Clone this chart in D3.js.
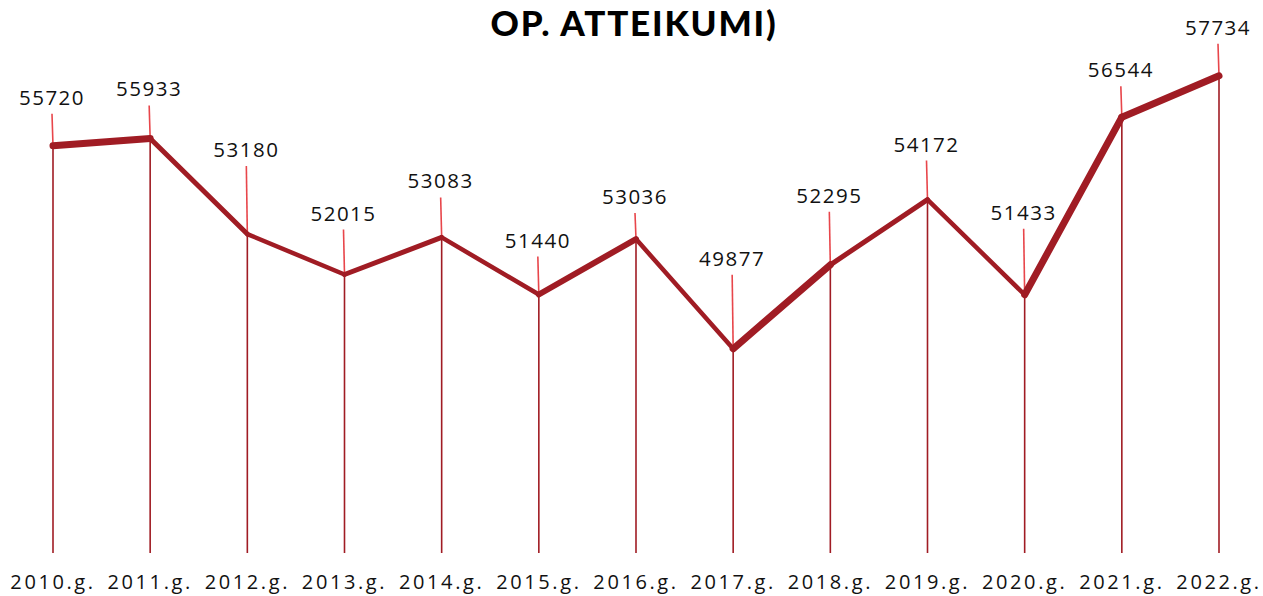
<!DOCTYPE html>
<html><head><meta charset="utf-8">
<script src="https://cdn.jsdelivr.net/npm/d3@7"></script>
<style>body{margin:0;background:#fff;}svg{display:block;}</style>
</head><body>
<svg id="c" width="1263" height="596"></svg>
<script>
const categories = ["2010.g.","2011.g.","2012.g.","2013.g.","2014.g.","2015.g.","2016.g.","2017.g.","2018.g.","2019.g.","2020.g.","2021.g.","2022.g."];
const values = [55720,55933,53180,52015,53083,51440,53036,49877,52295,54172,51433,56544,57734];
const title = "OP. ATTEIKUMI)";
// layout: gap (px) between point and label baseline, and stroke width of segment leaving each point
const labelGap = [41,42,77,54,49,47,35,83,62,48,75,40,41];
const segWidth = [7,5,4.5,5,4.5,6,4.5,7,5,4.5,7,7];

const svg = d3.select("#c");
const x = d3.scalePoint().domain(categories).range([53,1219]);
const y = d3.scaleLinear().domain([44000,58000]).range([553,66.6]);
const dark = "#a01c24", light = "#e8464b";

svg.append("text").attr("x",634).attr("y",36).attr("text-anchor","middle")
  .style("font-family","Lato").style("font-weight",900).style("font-size","35px")
  .style("letter-spacing","1.8px").attr("fill","#000").text(title);

// vertical drop lines
svg.selectAll(".drop").data(values).enter().append("line")
  .attr("x1",(d,i)=>x(categories[i])).attr("x2",(d,i)=>x(categories[i]))
  .attr("y1",d=>y(d)).attr("y2",y(44000))
  .attr("stroke",dark).attr("stroke-width",1.6);

// leader lines
svg.selectAll(".lead").data(values).enter().append("line")
  .attr("x1",(d,i)=>x(categories[i])-1).attr("x2",(d,i)=>x(categories[i]))
  .attr("y1",(d,i)=>y(d)-labelGap[i]+9).attr("y2",d=>y(d))
  .attr("stroke",light).attr("stroke-width",1.6);

// line segments with varying width
const segs = d3.pairs(values.map((v,i)=>[x(categories[i]),y(v)]));
svg.selectAll(".seg").data(segs).enter().append("line")
  .attr("x1",d=>d[0][0]).attr("y1",d=>d[0][1]).attr("x2",d=>d[1][0]).attr("y2",d=>d[1][1])
  .attr("stroke",dark).attr("stroke-width",(d,i)=>segWidth[i]).attr("stroke-linecap","round");

// value labels
svg.selectAll(".val").data(values).enter().append("text")
  .attr("x",(d,i)=>x(categories[i])-1).attr("y",(d,i)=>y(d)-labelGap[i])
  .attr("text-anchor","middle").style("font-family","Open Sans").style("font-size","20.5px")
  .style("letter-spacing","1.5px").attr("fill","#111").text(d=>d);

// category labels
svg.selectAll(".cat").data(categories).enter().append("text")
  .attr("x",d=>x(d)).attr("y",589).attr("text-anchor","middle")
  .style("font-family","Open Sans").style("font-size","20px")
  .style("letter-spacing","2.6px").attr("fill","#111").text(d=>d);
</script>
</body></html>
